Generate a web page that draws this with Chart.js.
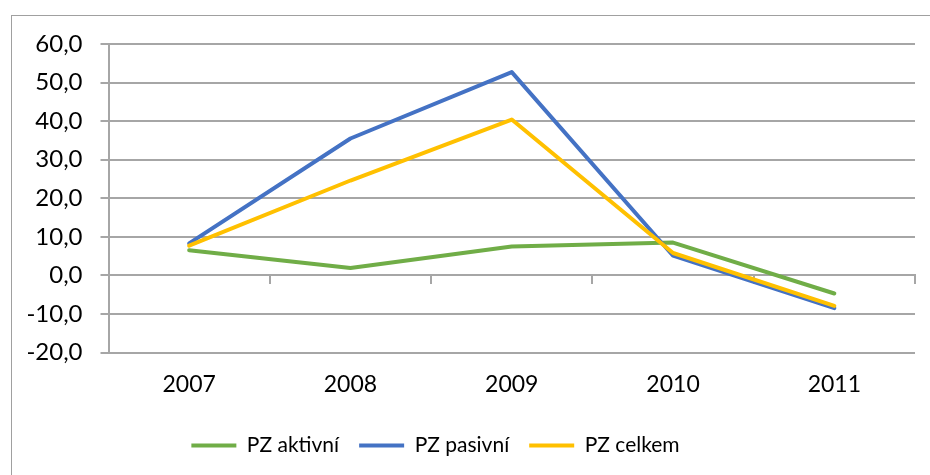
<!DOCTYPE html>
<html>
<head>
<meta charset="utf-8">
<script src="https://cdn.jsdelivr.net/npm/chart.js@4/dist/chart.umd.min.js"></script>
<style>
    html, body { margin: 0; padding: 0; background: #fff; }
    #wrap { width: 930px; height: 475px; }
</style>
</head>
<body>
<div id="wrap"><canvas id="pz"></canvas></div>
<script>
const years = ['2007', '2008', '2009', '2010', '2011'];
const pzAktivni = [6.5, 1.9, 7.5, 8.5, -4.7];
const pzPasivni = [8.3, 35.5, 52.7, 5.1, -8.5];
const pzCelkem = [7.7, 24.6, 40.4, 5.8, -7.9];
const yMin = -20;
const yMax = 60;
const yStep = 10;

const gridColor = '#a6a6a6';

// outer frame of the chart object + shift legend a bit left like Excel
const framePlugin = {
    id: 'frame',
    afterLayout(chart) {
        chart.legend.left -= 22;
        chart.legend.right -= 22;
    },
    beforeDraw(chart) {
        const c = chart.ctx;
        c.save();
        c.fillStyle = '#fff';
        c.fillRect(0, 0, chart.width, chart.height);
        c.strokeStyle = '#a0a0a0';
        c.lineWidth = 1;
        c.strokeRect(11.5, 15.5, chart.width, chart.height);
        c.restore();
    }
};

function lineSet(label, data, color, order) {
    return {
        label: label,
        data: data,
        borderColor: color,
        backgroundColor: color,
        borderWidth: 4,
        pointRadius: 0,
        tension: 0,
        borderJoinStyle: 'round',
        borderCapStyle: 'round',
        order: order
    };
}

const ctx = document.getElementById('pz');
new Chart(ctx, {
    type: 'line',
    data: {
        labels: years,
        datasets: [
            lineSet('PZ aktivní', pzAktivni, '#70ad47', 2),
            lineSet('PZ pasivní', pzPasivni, '#4472c4', 1),
            lineSet('PZ celkem', pzCelkem, '#ffc000', 0)
        ]
    },
    options: {
        responsive: true,
        maintainAspectRatio: false,
        animation: false,
        layout: {
            padding: { top: 44, right: 15, bottom: 9, left: 0 }
        },
        plugins: {
            tooltip: { enabled: false },
            legend: {
                position: 'bottom',
                labels: {
                    usePointStyle: true,
                    pointStyle: 'line',
                    pointStyleWidth: 45,
                    padding: 20,
                    color: '#000',
                    font: { family: 'Lato', size: 21 },
                    sort: (a, b) => a.datasetIndex - b.datasetIndex
                }
            }
        },
        scales: {
            x: {
                position: 'bottom',
                offset: true,
                grid: { display: false, drawTicks: false },
                border: { display: false },
                ticks: {
                    padding: 18,
                    color: '#000',
                    font: { family: 'Lato', size: 23 }
                },
                afterFit(scale) {
                    scale.height = 62.5;
                }
            },
            x0: {
                type: 'category',
                position: { y: 0 },
                offset: true,
                grid: {
                    offset: true,
                    drawOnChartArea: false,
                    tickLength: 8,
                    color: gridColor,
                    lineWidth: 2
                },
                border: { display: true, color: gridColor, width: 2 },
                ticks: { display: false }
            },
            y: {
                min: yMin,
                max: yMax,
                grid: {
                    color: gridColor,
                    lineWidth: 2,
                    tickLength: 8
                },
                border: { display: true, color: gridColor, width: 2 },
                ticks: {
                    stepSize: yStep,
                    padding: 18,
                    color: '#000',
                    font: { family: 'Lato', size: 24 },
                    callback: (v) => v.toFixed(1).replace('.', ',')
                },
                afterFit(scale) {
                    scale.width = 108.5;
                }
            }
        }
    },
    plugins: [framePlugin]
});
</script>
</body>
</html>
